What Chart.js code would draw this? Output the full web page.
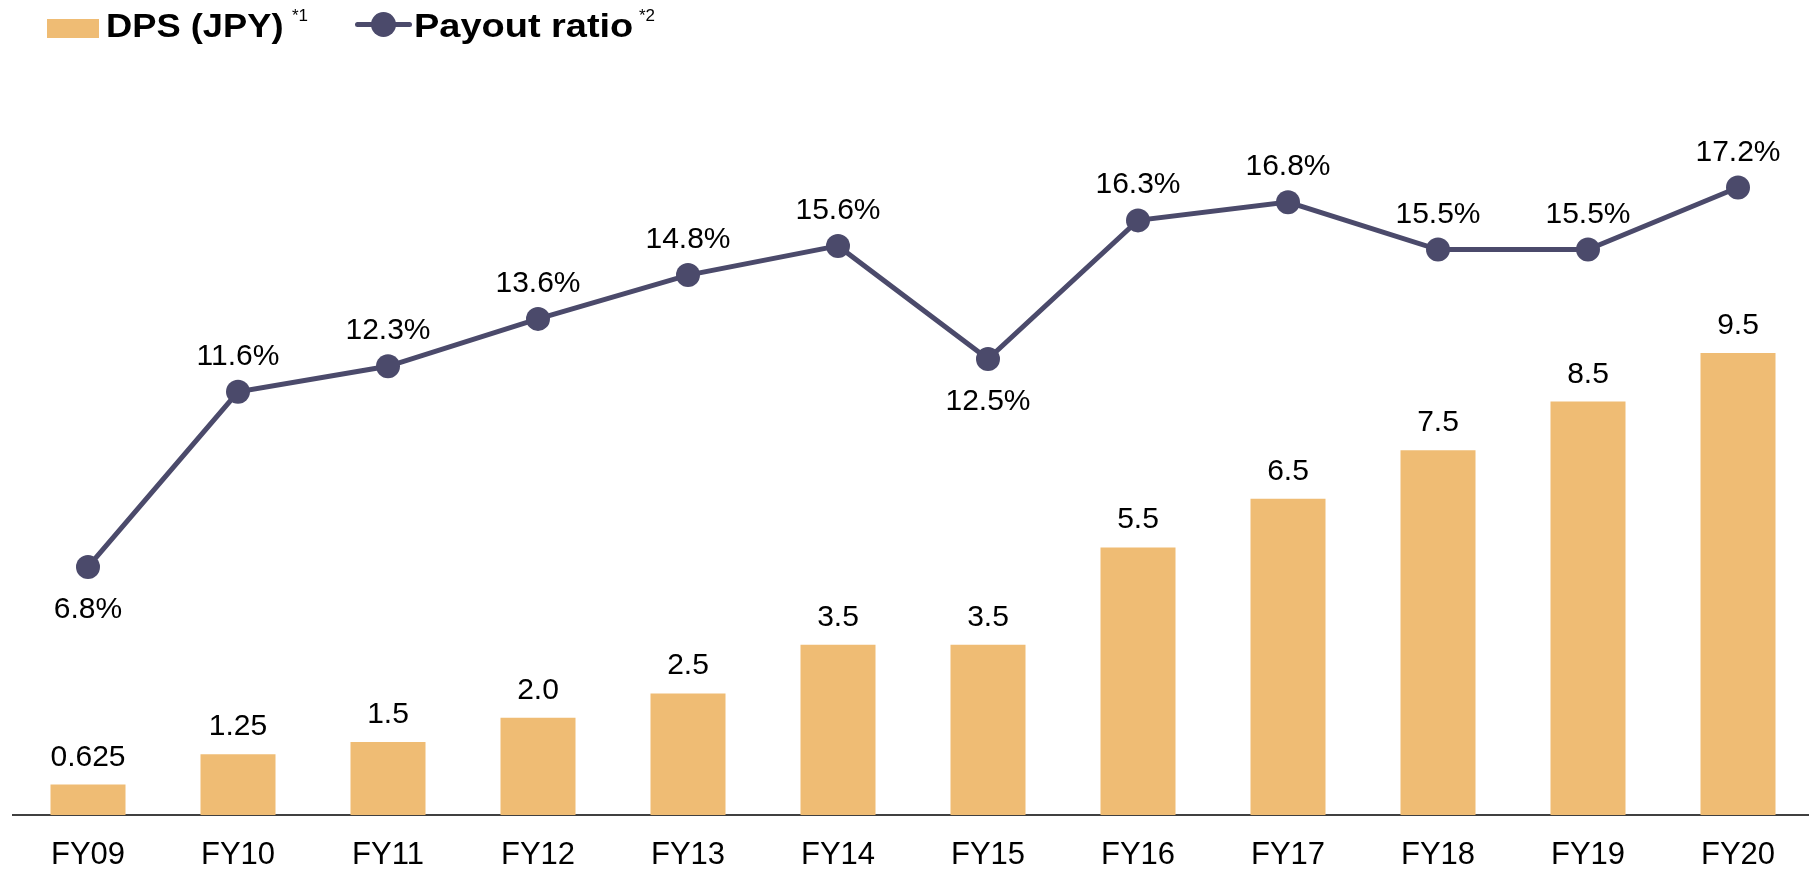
<!DOCTYPE html>
<html>
<head>
<meta charset="utf-8">
<title>DPS / Payout ratio</title>
<script src="https://cdn.jsdelivr.net/npm/chart.js@4.4.0/dist/chart.umd.min.js"></script>
<style>
    body { margin: 0; background: #fff; overflow: hidden; }
    #wrap { position: relative; width: 1809px; height: 869px; overflow: hidden; font-family: "Liberation Sans", Arial, sans-serif; color: #000; }
    #chart { position: absolute; left: 0; top: 0; }
    .lg { position: absolute; }
    .lg-bar { left: 47px; top: 19px; width: 52px; height: 19px; background: #EFBC74; }
    .lg-line { left: 355px; top: 22px; width: 57px; height: 5px; border-radius: 3px; background: #4B4A6B; }
    .lg-dot { left: 371px; top: 12px; width: 25px; height: 25px; border-radius: 50%; background: #4B4A6B; }
    .lg-txt { font-weight: bold; font-size: 33px; line-height: 33px; top: 9px; transform: scaleX(1.1); transform-origin: left top; white-space: nowrap; }
    .lg-sup { font-size: 17px; line-height: 17px; top: 7px; }
</style>
</head>
<body>
<div id="wrap">
    <canvas id="chart" width="1813" height="869"></canvas>
    <div class="lg lg-bar"></div>
    <div class="lg lg-txt" style="left:106px">DPS (JPY)</div>
    <div class="lg lg-sup" style="left:292px">*1</div>
    <div class="lg lg-line"></div>
    <div class="lg lg-dot"></div>
    <div class="lg lg-txt" style="left:414px; transform: scaleX(1.15)">Payout ratio</div>
    <div class="lg lg-sup" style="left:639px">*2</div>
</div>
<script>
var FONT = "'Liberation Sans', Arial, sans-serif";
var BAR = "#EFBC74", LINE = "#4B4A6B";

var years = ["FY09", "FY10", "FY11", "FY12", "FY13", "FY14", "FY15", "FY16", "FY17", "FY18", "FY19", "FY20"];
var dps = [0.625, 1.25, 1.5, 2.0, 2.5, 3.5, 3.5, 5.5, 6.5, 7.5, 8.5, 9.5];
var dpsText = ["0.625", "1.25", "1.5", "2.0", "2.5", "3.5", "3.5", "5.5", "6.5", "7.5", "8.5", "9.5"];
var payout = [6.8, 11.6, 12.3, 13.6, 14.8, 15.6, 12.5, 16.3, 16.8, 15.5, 15.5, 17.2];

// dips (lower than both neighbours) get their label under the point
function labelBelow(i) {
    var v = payout[i];
    var prevOk = i === 0 || v < payout[i - 1];
    var nextOk = i === payout.length - 1 || v < payout[i + 1];
    return prevOk && nextOk;
}

var valueLabels = {
    id: "valueLabels",
    afterDatasetsDraw: function (chart) {
        var ctx = chart.ctx;
        ctx.save();
        ctx.font = "30px " + FONT;
        ctx.fillStyle = "#000";
        ctx.textAlign = "center";
        ctx.textBaseline = "alphabetic";
        chart.getDatasetMeta(0).data.forEach(function (el, i) {
            ctx.fillText(dpsText[i], el.x, el.y - 19);
        });
        chart.getDatasetMeta(1).data.forEach(function (el, i) {
            var t = payout[i].toFixed(1) + "%";
            ctx.fillText(t, el.x, labelBelow(i) ? el.y + 51 : el.y - 27);
        });
        ctx.restore();
    }
};

new Chart(document.getElementById("chart"), {
    type: "bar",
    data: {
        labels: years,
        datasets: [
            { label: "DPS (JPY)", data: dps, backgroundColor: BAR, borderWidth: 0,
              categoryPercentage: 1, barPercentage: 0.5, yAxisID: "y", order: 2 },
            { label: "Payout ratio", type: "line", data: payout, yAxisID: "y1", order: 1,
              borderColor: LINE, borderWidth: 5, tension: 0,
              pointRadius: 12, pointBackgroundColor: LINE, pointBorderWidth: 0 }
        ]
    },
    options: {
        responsive: false,
        animation: false,
        layout: { autoPadding: false, padding: { left: 13, top: 100, right: 0, bottom: 0 } },
        plugins: { legend: { display: false }, tooltip: { enabled: false } },
        scales: {
            x: {
                grid: { display: false, drawTicks: false },
                border: { display: true, color: "#404040", width: 2 },
                ticks: { color: "#000", padding: 22, font: { size: 31, family: FONT } },
                afterFit: function (s) { s.height = 54; }
            },
            y: { display: false, min: 0, max: 14.7 },
            y1: { display: false, min: 0, max: 19.6 }
        }
    },
    plugins: [valueLabels]
});
</script>
</body>
</html>
